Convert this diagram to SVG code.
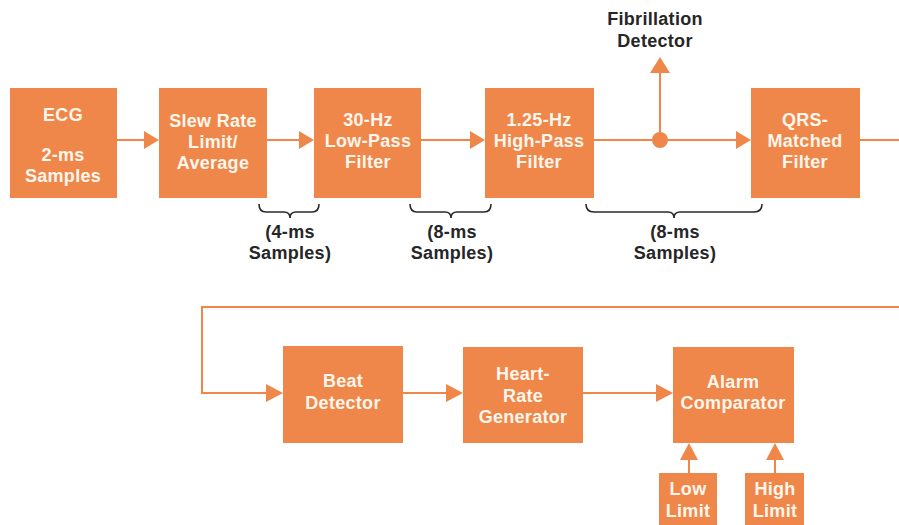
<svg xmlns="http://www.w3.org/2000/svg" width="899" height="525" viewBox="0 0 899 525">
<defs>
<style>
.box{fill:#F0874A}
.bt{font-family:"Liberation Sans",Arial,sans-serif;font-weight:bold;font-size:18px;fill:#FFF6EC;text-anchor:middle;letter-spacing:0.3px}
.lt{font-family:"Liberation Sans",Arial,sans-serif;font-weight:bold;font-size:18px;fill:#262626;text-anchor:middle;letter-spacing:0.3px}
.ln{stroke:#F0874A;stroke-width:2;fill:none}
.ah{fill:#F0874A}
.br{stroke:#2a2a2a;stroke-width:1.6;fill:none}
</style>
</defs>
<rect width="899" height="525" fill="#FFFFFF"/>
<g id="connectors">
<line class="ln" x1="117" y1="140" x2="146" y2="140"/>
<polygon class="ah" points="144,131 159,140 144,149"/>
<line class="ln" x1="267" y1="140" x2="300" y2="140"/>
<polygon class="ah" points="299,131 314,140 299,149"/>
<line class="ln" x1="421" y1="140" x2="472" y2="140"/>
<polygon class="ah" points="470,131 485,140 470,149"/>
<line class="ln" x1="594" y1="140" x2="738" y2="140"/>
<polygon class="ah" points="736,131 751,140 736,149"/>
<circle class="ah" cx="660" cy="140" r="8"/>
<line class="ln" x1="660" y1="140" x2="660" y2="70"/>
<polygon class="ah" points="650,73 660,57 670,73"/>
<polyline class="ln" points="860,140 899,140"/>
<polyline class="ln" points="899,307 202,307 202,393 270,393"/>
<polygon class="ah" points="266,384 283,393 266,402"/>
<line class="ln" x1="403" y1="393" x2="450" y2="393"/>
<polygon class="ah" points="446,384 463,393 446,402"/>
<line class="ln" x1="583" y1="393" x2="660" y2="393"/>
<polygon class="ah" points="656,384 673,393 656,402"/>
<line class="ln" x1="689" y1="473" x2="689" y2="456"/>
<polygon class="ah" points="680,460 689,443 698,460"/>
<line class="ln" x1="775" y1="473" x2="775" y2="456"/>
<polygon class="ah" points="766,460 775,443 784,460"/>
</g>
<g id="ecg">
<rect class="box" x="10" y="88" width="107" height="110"/>
<text class="bt" x="63" y="121">ECG</text>
<text class="bt" x="63" y="161">2-ms</text>
<text class="bt" x="63" y="182">Samples</text>
</g>
<g id="slew">
<rect class="box" x="159" y="88" width="108" height="110"/>
<text class="bt" x="213" y="127">Slew Rate</text>
<text class="bt" x="213" y="148">Limit/</text>
<text class="bt" x="213" y="169">Average</text>
</g>
<g id="lowpass">
<rect class="box" x="314" y="88" width="107" height="110"/>
<text class="bt" x="368" y="126">30-Hz</text>
<text class="bt" x="368" y="147">Low-Pass</text>
<text class="bt" x="368" y="168">Filter</text>
</g>
<g id="highpass">
<rect class="box" x="485" y="88" width="109" height="110"/>
<text class="bt" x="539" y="126">1.25-Hz</text>
<text class="bt" x="539" y="147">High-Pass</text>
<text class="bt" x="539" y="168">Filter</text>
</g>
<g id="qrs">
<rect class="box" x="751" y="88" width="109" height="110"/>
<text class="bt" x="805" y="126">QRS-</text>
<text class="bt" x="805" y="147">Matched</text>
<text class="bt" x="805" y="168">Filter</text>
</g>
<g id="fibrillation">
<text class="lt" x="655" y="25">Fibrillation</text>
<text class="lt" x="655" y="47">Detector</text>
</g>
<g id="beat">
<rect class="box" x="283" y="346" width="120" height="97"/>
<text class="bt" x="343" y="387">Beat</text>
<text class="bt" x="343" y="409">Detector</text>
</g>
<g id="heartrate">
<rect class="box" x="463" y="347" width="120" height="96"/>
<text class="bt" x="523" y="380">Heart-</text>
<text class="bt" x="523" y="402">Rate</text>
<text class="bt" x="523" y="423">Generator</text>
</g>
<g id="alarm">
<rect class="box" x="673" y="347" width="121" height="96"/>
<text class="bt" x="733" y="388">Alarm</text>
<text class="bt" x="733" y="409">Comparator</text>
</g>
<g id="lowlimit">
<rect class="box" x="659" y="473" width="58" height="52"/>
<text class="bt" x="688" y="495">Low</text>
<text class="bt" x="688" y="517">Limit</text>
</g>
<g id="highlimit">
<rect class="box" x="745" y="473" width="59" height="52"/>
<text class="bt" x="775" y="495">High</text>
<text class="bt" x="775" y="517">Limit</text>
</g>
<g id="braces">
<path class="br" d="M259 204 Q259 212 266 212 L284 212 Q290 212 290 218 Q290 212 296 212 L312 212 Q319 212 319 204"/>
<path class="br" d="M410 204 Q410 212 417 212 L445 212 Q451 212 451 218 Q451 212 457 212 L484 212 Q491 212 491 204"/>
<path class="br" d="M586 204 Q586 212 594 212 L668 212 Q674 212 674 218 Q674 212 680 212 L754 212 Q762 212 762 204"/>
<text class="lt" x="290" y="238">(4-ms</text>
<text class="lt" x="290" y="259">Samples)</text>
<text class="lt" x="452" y="238">(8-ms</text>
<text class="lt" x="452" y="259">Samples)</text>
<text class="lt" x="675" y="238">(8-ms</text>
<text class="lt" x="675" y="259">Samples)</text>
</g>
</svg>
